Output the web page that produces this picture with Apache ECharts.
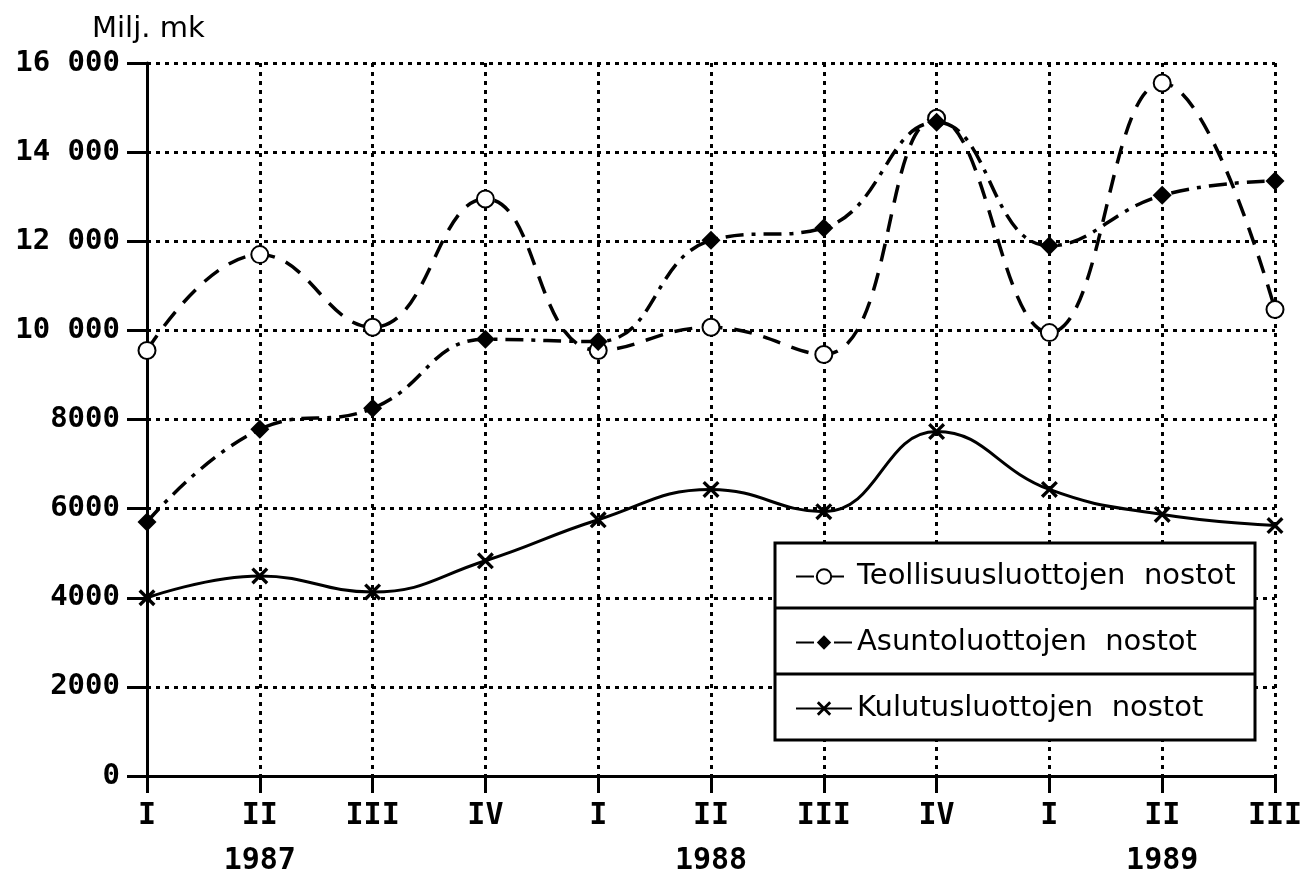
<!DOCTYPE html>
<html>
<head>
<meta charset="utf-8">
<script src="https://cdn.jsdelivr.net/npm/echarts@6/dist/echarts.min.js"></script>
<style>
  html, body { margin: 0; padding: 0; background: #fff; }
  #main { width: 1302px; height: 875px; }
</style>
</head>
<body>
<div id="main"></div>
<script>
// kvartaalit
const categories = ['1987 I', '1987 II', '1987 III', '1987 IV', '1988 I', '1988 II', '1988 III', '1988 IV', '1989 I', '1989 II', '1989 III']
const quarterLabels = ['I', 'II', 'III', 'IV', 'I', 'II', 'III', 'IV', 'I', 'II', 'III']
const yearLabels = ['', '1987', '', '', '', '1988', '', '', '', '1989', '']
const yTickLabels = ['0', '2000', '4000', '6000', '8000', '10 000', '12 000', '14 000', '16 000']

// sarjat, milj. mk
const teollisuus = [9550, 11700, 10070, 12950, 9550, 10070, 9460, 14760, 9950, 15550, 10470]
const asunto = [5700, 7780, 8250, 9800, 9750, 12020, 12300, 14670, 11900, 13030, 13350]
const kulutus = [4000, 4490, 4130, 4830, 5750, 6430, 5930, 7730, 6430, 5870, 5620]

const names = ['Teollisuusluottojen  nostot', 'Asuntoluottojen  nostot', 'Kulutusluottojen  nostot']

const myChart = echarts.init(document.getElementById('main'))

const crossSymbol = 'path://M0,1.4L1.4,0L5,3.6L8.6,0L10,1.4L6.4,5L10,8.6L8.6,10L5,6.4L1.4,10L0,8.6L3.6,5Z'
const monoFont = '"DejaVu Sans Mono", monospace'
const sansFont = '"DejaVu Sans", sans-serif'

function legendAt(name, top) {
    return {
        data: [name],
        left: 790,
        top: top,
        z: 100,
        itemWidth: 56,
        itemHeight: 18,
        itemGap: 14,
        textStyle: { fontFamily: sansFont, fontSize: 29, color: '#000' },
        selectedMode: false
    }
}

const option = {
    backgroundColor: '#fff',
    animation: false,
    title: {
        text: 'Milj. mk',
        left: 87,
        top: 10,
        textStyle: { fontFamily: sansFont, fontSize: 29, fontWeight: 'normal', color: '#000' }
    },
    grid: { left: 147, right: 27, top: 63, bottom: 99, outerBoundsMode: 'none' },
    legend: [
        legendAt(names[0], 557),
        legendAt(names[1], 623),
        legendAt(names[2], 689)
    ],
    graphic: [
        { type: 'rect', z: 50, shape: { x: 775, y: 543, width: 480, height: 197 },
          style: { fill: '#fff', stroke: '#000', lineWidth: 3 } },
        { type: 'line', z: 51, shape: { x1: 775, y1: 608, x2: 1255, y2: 608 },
          style: { stroke: '#000', lineWidth: 3 } },
        { type: 'line', z: 51, shape: { x1: 775, y1: 674, x2: 1255, y2: 674 },
          style: { stroke: '#000', lineWidth: 3 } }
    ],
    xAxis: {
        type: 'category',
        data: categories,
        boundaryGap: false,
        axisLine: { lineStyle: { color: '#000', width: 3 } },
        axisTick: { show: true, length: 17, interval: 0, lineStyle: { color: '#000', width: 3 } },
        axisLabel: {
            interval: 0,
            margin: 18,
            fontFamily: monoFont,
            fontWeight: 'bold',
            fontSize: 30,
            lineHeight: 45,
            color: '#000',
            formatter: function (v, i) {
                return yearLabels[i] ? quarterLabels[i] + '\n' + yearLabels[i] : quarterLabels[i]
            }
        },
        splitLine: { show: true, interval: 0, lineStyle: { color: '#000', width: 3, type: [4, 5] } }
    },
    yAxis: {
        type: 'value',
        min: 0,
        max: 16000,
        interval: 2000,
        axisLine: { show: true, lineStyle: { color: '#000', width: 3 } },
        axisTick: { show: true, length: 20, lineStyle: { color: '#000', width: 3 } },
        axisLabel: {
            margin: 27,
            fontFamily: monoFont,
            fontWeight: 'bold',
            fontSize: 29,
            color: '#000',
            formatter: function (v) {
                return yTickLabels[Math.round(v / 2000)]
            }
        },
        splitLine: { show: true, lineStyle: { color: '#000', width: 3, type: [4, 5] } }
    },
    series: [
        {
            name: names[0],
            type: 'line',
            data: teollisuus,
            smooth: 0.45,
            symbol: 'emptyCircle',
            symbolSize: 17,
            itemStyle: { color: '#000', borderWidth: 3 },
            lineStyle: { color: '#000', width: 3.5, type: [18, 12] }
        },
        {
            name: names[1],
            type: 'line',
            data: asunto,
            smooth: 0.45,
            symbol: 'diamond',
            symbolSize: 19,
            itemStyle: { color: '#000' },
            lineStyle: { color: '#000', width: 3.5, type: [18, 8, 4, 8] }
        },
        {
            name: names[2],
            type: 'line',
            data: kulutus,
            smooth: 0.45,
            symbol: crossSymbol,
            symbolSize: 17,
            itemStyle: { color: '#000' },
            lineStyle: { color: '#000', width: 3 }
        }
    ]
}

myChart.setOption(option)
</script>
</body>
</html>
